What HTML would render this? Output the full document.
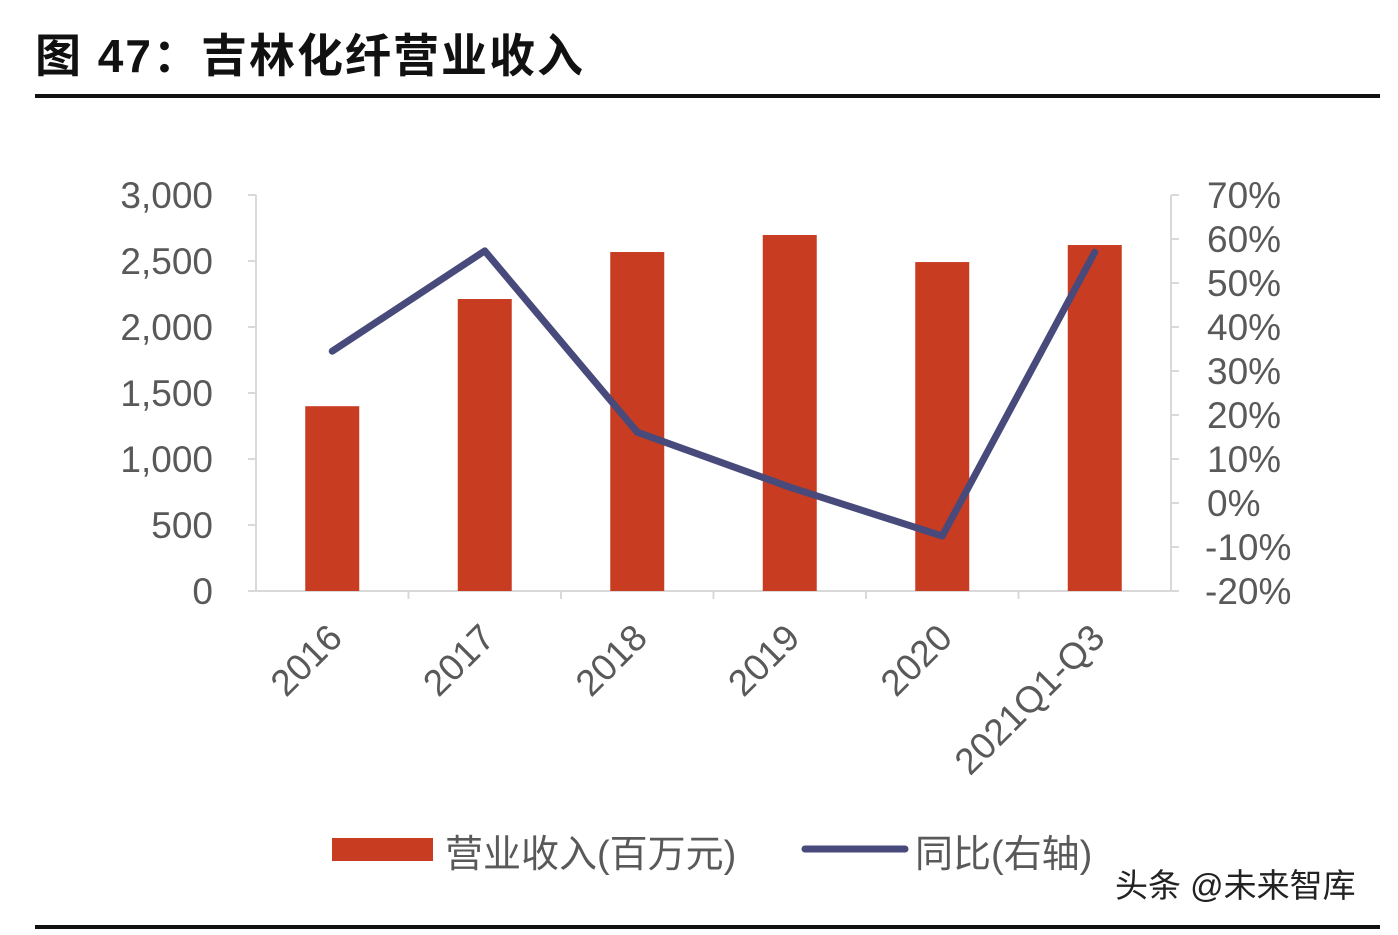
<!DOCTYPE html>
<html><head><meta charset="utf-8"><style>
body{margin:0;background:#fff;width:1398px;height:930px;overflow:hidden;font-family:"Liberation Sans","Noto Sans CJK SC",sans-serif}
</style></head><body>
<svg width="1398" height="930" xmlns="http://www.w3.org/2000/svg">
<text x="35" y="72" font-size="46" font-weight="bold" letter-spacing="2" fill="#111" font-family="Liberation Sans,Noto Sans CJK SC,sans-serif">图 47：吉林化纤营业收入</text>
<rect x="35" y="94" width="1345" height="4" fill="#111"/>
<rect x="35" y="925" width="1345" height="4" fill="#111"/>
<g id="axes"></g><g id="bars"></g><g id="line"></g><g id="labels"></g>
<g>
<rect x="332" y="838" width="101" height="23" fill="#c83c22"/>
<text x="445" y="867" font-size="38" fill="#595959">营业收入(百万元)</text>
<line x1="805" y1="849" x2="905" y2="849" stroke="#474a7a" stroke-width="7" stroke-linecap="round"/>
<text x="915" y="867" font-size="38" fill="#595959">同比(右轴)</text>
</g>
<text x="1115" y="897" font-size="33" fill="#222">头条 @未来智库</text>
</svg>
<script>
const categories=["2016","2017","2018","2019","2020","2021Q1-Q3"];
const revenue=[1400,2212,2568,2697,2492,2621];
const yoy=[34.5,57.3,16.1,3.6,-7.5,57];
const leftTicks=[0,500,1000,1500,2000,2500,3000];
const leftTickLabels=["0","500","1,000","1,500","2,000","2,500","3,000"];
const rightTicks=[-20,-10,0,10,20,30,40,50,60,70];
const NS="http://www.w3.org/2000/svg";
const x0=256,x1=1171,yTop=195,yBot=591;
const yL=v=>yBot-(v/3000)*(yBot-yTop);
const yR=v=>yBot-((v+20)/90)*(yBot-yTop);
const bw=(x1-x0)/categories.length;
const xc=i=>x0+bw*(i+0.5);
function mk(tag,attrs,parent){const e=document.createElementNS(NS,tag);for(const k in attrs)e.setAttribute(k,attrs[k]);document.getElementById(parent).appendChild(e);return e;}
let e;
e=mk('line',{x1:x0,y1:yTop,x2:x0,y2:yBot,stroke:'#d9d9d9','stroke-width':2},'axes');

e=mk('line',{x1:x1,y1:yTop,x2:x1,y2:yBot,stroke:'#d9d9d9','stroke-width':2},'axes');

e=mk('line',{x1:x0,y1:yBot,x2:x1,y2:yBot,stroke:'#d9d9d9','stroke-width':2},'axes');

leftTicks.forEach((t,i)=>{
 e=mk('line',{x1:x0-8,y1:yL(t),x2:x0,y2:yL(t),stroke:'#d9d9d9','stroke-width':2},'axes');
 
 e=mk('text',{x:213,y:yL(t)+13,'font-size':37,fill:'#595959','text-anchor':'end'},'axes');e.textContent=leftTickLabels[i];
 
});
rightTicks.forEach(t=>{
 e=mk('line',{x1:x1,y1:yR(t),x2:x1+8,y2:yR(t),stroke:'#d9d9d9','stroke-width':2},'axes');
 
 e=mk('text',{x:t<0?1205:1207,y:yR(t)+13,'font-size':37,fill:'#595959'},'axes');e.textContent=t+'%';
 
});
for(let i=1;i<categories.length;i++){
 e=mk('line',{x1:x0+bw*i,y1:yBot,x2:x0+bw*i,y2:yBot+8,stroke:'#d9d9d9','stroke-width':2},'axes');
 
}
revenue.forEach((v,i)=>{
 e=mk('rect',{x:xc(i)-27,y:yL(v),width:54,height:yBot-yL(v),fill:'#c83c22'},'bars');
 
});
e=mk('polyline',{points:yoy.map((v,i)=>xc(i)+','+yR(v)).join(' '),fill:'none',stroke:'#474a7a','stroke-width':7,'stroke-linejoin':'round','stroke-linecap':'round'},'line');

categories.forEach((c,i)=>{
 const x=xc(i)+12,y=640;
 e=mk('text',{x:x,y:y,'font-size':37,fill:'#595959','text-anchor':'end',transform:`rotate(-45 ${x} ${y})`},'labels');e.textContent=c;
 
});
</script>
</body></html>
